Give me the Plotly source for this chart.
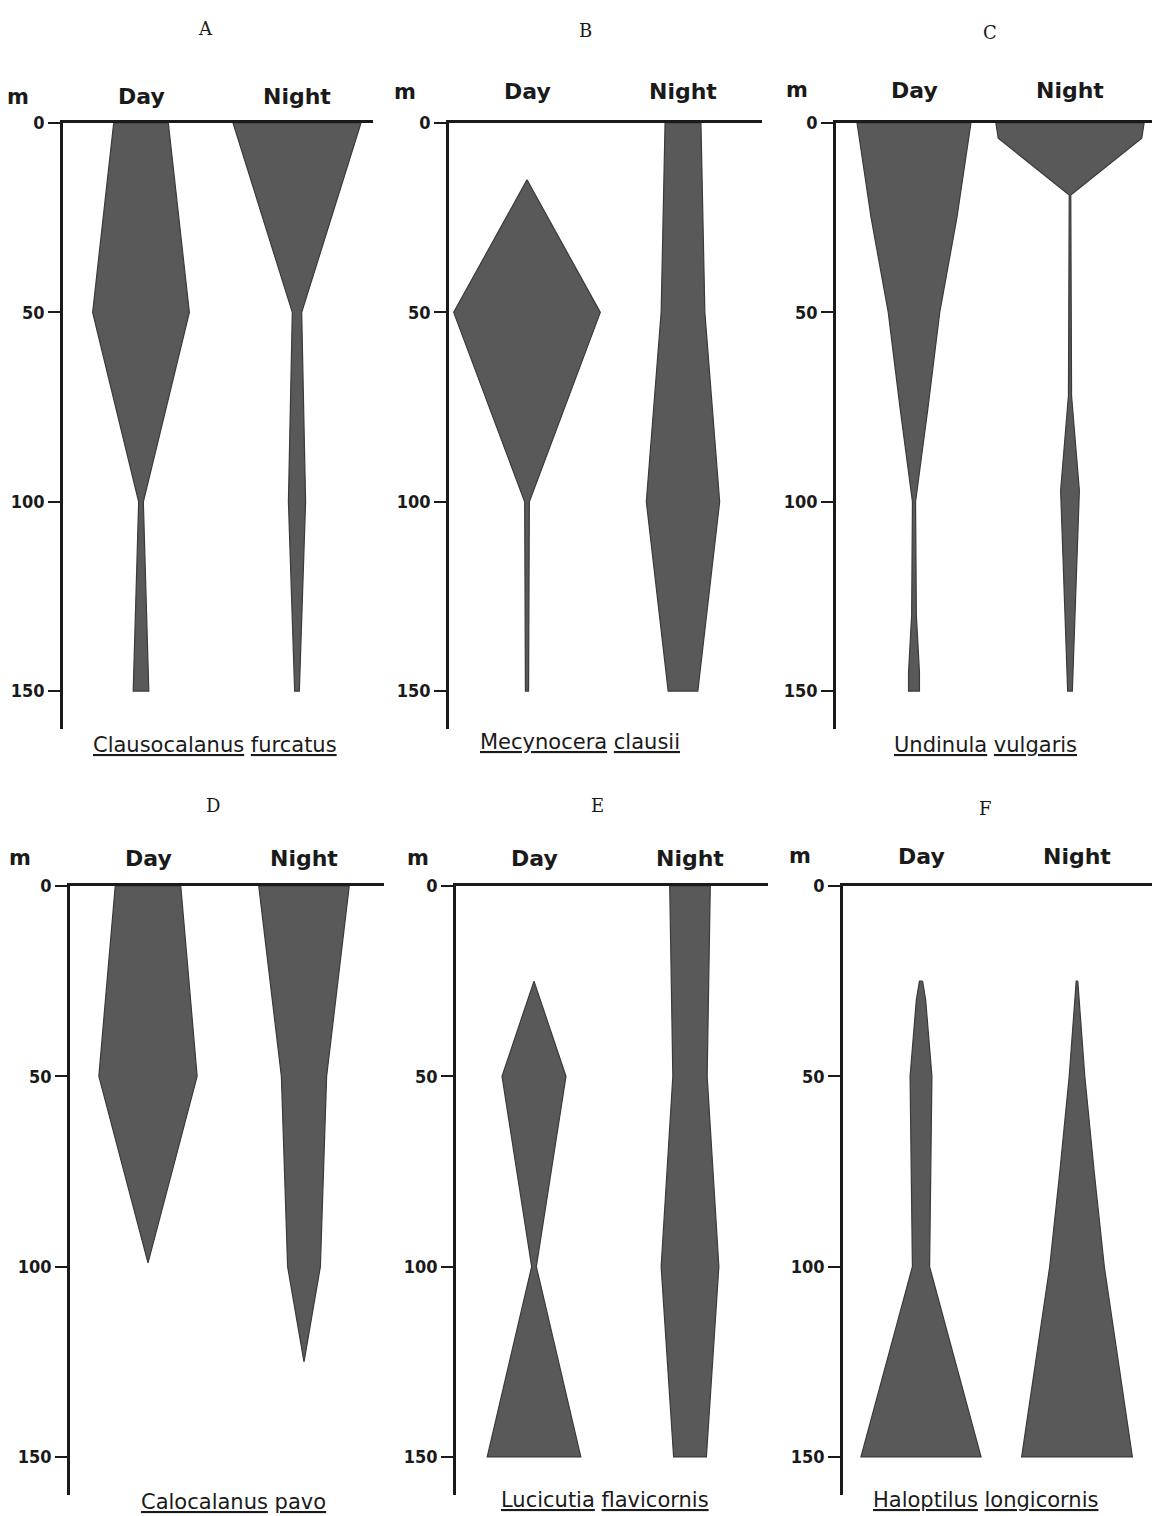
import plotly.graph_objects as go

# ---------------- data ----------------
panel_letters = ["A", "B", "C", "D", "E", "F"]
species_genus = ["Clausocalanus", "Mecynocera", "Undinula", "Calocalanus", "Lucicutia", "Haloptilus"]
species_epithet = ["furcatus", "clausii", "vulgaris", "pavo", "flavicornis", "longicornis"]
period_labels = ["Day", "Night"]
depth_unit = "m"
depth_ticks = [0, 50, 100, 150]
depth_tick_text = ["0", "50", "100", "150"]

# depth (m) and kite half-width (relative abundance) for each panel
A_day_depth = [0, 50, 100, 150]
A_day_width = [0.35, 0.62, 0.03, 0.10]
A_night_depth = [0, 50, 100, 150]
A_night_width = [0.82, 0.06, 0.11, 0.03]

B_day_depth = [15, 50, 100, 150]
B_day_width = [0.0, 0.94, 0.03, 0.02]
B_night_depth = [0, 50, 100, 150]
B_night_width = [0.23, 0.28, 0.47, 0.19]

C_day_depth = [0, 25, 50, 75, 100, 130, 145, 150]
C_day_width = [0.73, 0.55, 0.33, 0.18, 0.02, 0.03, 0.07, 0.07]
C_night_depth = [0, 4, 19, 72, 97, 150]
C_night_width = [0.95, 0.92, 0.01, 0.02, 0.12, 0.03]

D_day_depth = [0, 50, 99]
D_day_width = [0.42, 0.63, 0.0]
D_night_depth = [0, 50, 100, 125]
D_night_width = [0.58, 0.29, 0.21, 0.0]

E_day_depth = [25, 50, 100, 150]
E_day_width = [0.0, 0.41, 0.03, 0.60]
E_night_depth = [0, 50, 100, 150]
E_night_width = [0.26, 0.22, 0.37, 0.21]

F_day_depth = [25, 30, 50, 100, 150]
F_day_width = [0.02, 0.06, 0.14, 0.11, 0.77]
F_night_depth = [25, 50, 75, 100, 150]
F_night_width = [0.01, 0.10, 0.22, 0.35, 0.71]

panels = [
    (A_day_depth, A_day_width, A_night_depth, A_night_width),
    (B_day_depth, B_day_width, B_night_depth, B_night_width),
    (C_day_depth, C_day_width, C_night_depth, C_night_width),
    (D_day_depth, D_day_width, D_night_depth, D_night_width),
    (E_day_depth, E_day_width, E_night_depth, E_night_width),
    (F_day_depth, F_day_width, F_night_depth, F_night_width),
]

# ---------------- layout (pixels) ----------------
W, H = 1152, 1516
unit_px = 78.0
kite_centers = [1.0, 3.0]
axis_px = [63, 449, 836, 70, 456, 843]
end_px = [373, 762, 1152, 384, 768, 1152]
row_top_px = [123, 886]
row_bot_px = [729, 1495]
depth_max = 160
letter_pos = [(205, 28), (585, 30), (990, 33), (213, 805), (597, 805), (985, 808)]
label_y = [97, 92, 90, 858, 858, 856]
m_x = [18, 405, 797, 20, 418, 800]
species_pos = [(215, 745), (580, 742), (985, 745), (233, 1502), (605, 1500), (985, 1500)]

ink = "#1a1a1a"
fill = "#595959"

fig = go.Figure()


def kite(center, depth, width):
    xs = [center + w for w in width] + [center - w for w in reversed(width)]
    ys = list(depth) + list(reversed(depth))
    xs.append(xs[0])
    ys.append(ys[0])
    return xs, ys


for i, (dd, dw, nd, nw) in enumerate(panels):
    k = "" if i == 0 else str(i + 1)
    for c, (d, w) in zip(kite_centers, [(dd, dw), (nd, nw)]):
        xs, ys = kite(c, d, w)
        fig.add_trace(go.Scatter(
            x=xs, y=ys, mode="lines", fill="toself",
            fillcolor=fill, line=dict(color="#3a3a3a", width=1.2),
            hoverinfo="skip", showlegend=False,
            xaxis="x" + k, yaxis="y" + k))

layout = dict(
    width=W, height=H, margin=dict(l=0, r=0, t=0, b=0),
    paper_bgcolor="white", plot_bgcolor="white", showlegend=False,
)
annotations = []


def note(x, y, text, font, xref="paper"):
    return dict(x=x, y=y, xref=xref, yref="paper", text=text, showarrow=False,
                xanchor="center", yanchor="middle", font=font)


for i in range(6):
    k = "" if i == 0 else str(i + 1)
    row = i // 3
    top, bot = row_top_px[row], row_bot_px[row]
    layout["xaxis" + k] = dict(
        domain=[axis_px[i] / W, min(end_px[i] / W, 1.0)],
        range=[0, (end_px[i] - axis_px[i]) / unit_px],
        side="top", showline=True, linewidth=2.5, linecolor=ink,
        showgrid=False, zeroline=False, showticklabels=False, ticks="",
        anchor="y" + k, fixedrange=True, automargin=False)
    layout["yaxis" + k] = dict(
        domain=[1 - bot / H, 1 - top / H],
        range=[depth_max, 0], showline=True, linewidth=2.5, linecolor=ink,
        ticks="outside", ticklen=12, tickwidth=2, tickcolor=ink,
        tickvals=depth_ticks, ticktext=depth_tick_text,
        tickfont=dict(family="Liberation Sans Narrow, DejaVu Sans Condensed, sans-serif",
                      size=18, color=ink, weight="bold"),
        showgrid=False, zeroline=False, anchor="x" + k,
        fixedrange=True, automargin=False)
    lx, ly = letter_pos[i]
    annotations.append(note(lx / W, 1 - ly / H, panel_letters[i],
                            dict(family="DejaVu Serif, Liberation Serif, serif", size=18, color=ink)))
    annotations.append(note(m_x[i] / W, 1 - label_y[i] / H, "<b>" + depth_unit + "</b>",
                            dict(family="DejaVu Sans, sans-serif", size=21, color=ink)))
    for c, lab in zip(kite_centers, period_labels):
        annotations.append(note(c, 1 - label_y[i] / H, "<b>" + lab + "</b>",
                                dict(family="DejaVu Sans, sans-serif", size=22, color=ink),
                                xref="x" + k))
    sx, sy = species_pos[i]
    annotations.append(note(sx / W, 1 - sy / H,
                            "<u>" + species_genus[i] + "</u> <u>" + species_epithet[i] + "</u>",
                            dict(family="DejaVu Sans, sans-serif", size=21, color=ink)))

layout["annotations"] = annotations
fig.update_layout(**layout)

fig.write_html("out.html", post_script="document.body.style.margin='0';",
               config={"displayModeBar": False})
